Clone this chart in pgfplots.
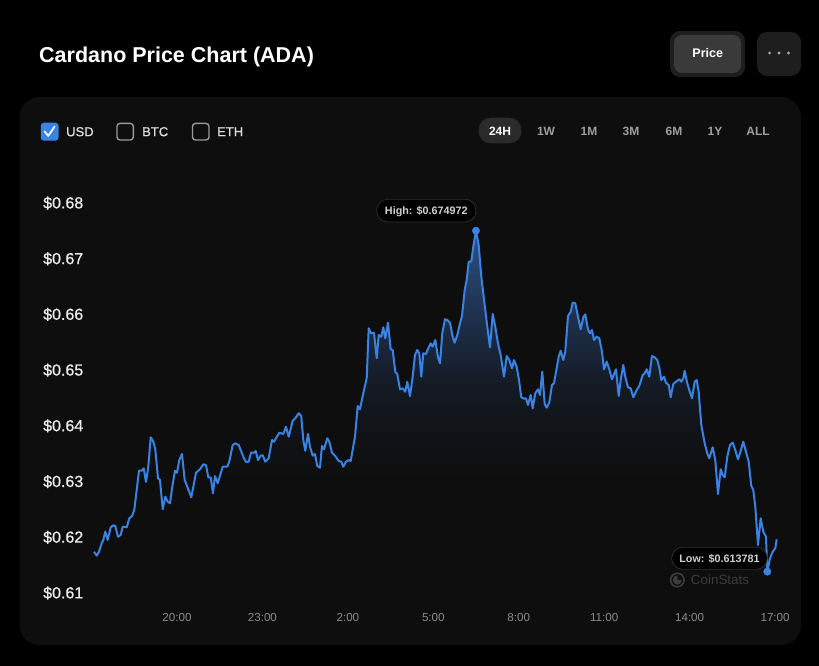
\documentclass[border=0pt]{standalone}
\usepackage{pgfplots}
\pgfplotsset{compat=1.18}
\usepackage{pgfplotstable}
\usepackage{fontspec}
\setmainfont{Liberation Sans}
\newfontfamily\medfont[FakeBold=0.7]{Liberation Sans}

\definecolor{lineblue}{RGB}{58,130,228}
\definecolor{panel}{RGB}{14,14,14}
\definecolor{pill}{RGB}{43,43,43}
\definecolor{btnout}{RGB}{30,30,30}
\definecolor{btnin}{RGB}{58,58,58}
\definecolor{ticktext}{RGB}{140,140,140}
\definecolor{wmark}{RGB}{60,60,60}
\definecolor{fa}{RGB}{17,20,25}
\definecolor{fb}{RGB}{21,28,40}
\definecolor{fc}{RGB}{28,44,69}
\definecolor{fd}{RGB}{40,70,115}
\definecolor{fe}{RGB}{44,78,130}

% stops between 25bp (bottom of path) and 75bp (top of path)
\pgfdeclareverticalshading{areafill}{100bp}{color(0bp)=(panel); color(41bp)=(panel);
  color(49.4bp)=(fa); color(54.9bp)=(fb); color(61.7bp)=(fc); color(71.2bp)=(fd);
  color(75bp)=(fe); color(100bp)=(fe)}

% hours after 17:00 of the day before, price in USD
\pgfplotstableread{
t p
0.086 0.61735
0.180 0.61664
0.261 0.61735
0.356 0.61886
0.412 0.61945
0.482 0.62094
0.567 0.61945
0.672 0.62173
0.763 0.62209
0.834 0.62197
0.928 0.62005
1.023 0.62035
1.093 0.62184
1.234 0.62173
1.325 0.62335
1.420 0.62376
1.501 0.62484
1.585 0.62843
1.666 0.63189
1.760 0.63189
1.831 0.63232
1.912 0.62987
1.992 0.63261
2.077 0.63789
2.168 0.63710
2.238 0.63574
2.333 0.63053
2.403 0.63022
2.498 0.62497
2.589 0.62723
2.673 0.62633
2.754 0.62604
2.835 0.62902
2.930 0.63189
3.000 0.63153
3.081 0.63381
3.176 0.63489
3.270 0.63022
3.362 0.62902
3.502 0.62712
3.597 0.62963
3.667 0.63153
3.808 0.63215
3.923 0.63304
4.018 0.63292
4.099 0.63071
4.183 0.63071
4.264 0.62784
4.334 0.63094
4.429 0.62963
4.605 0.63261
4.766 0.63261
4.836 0.63351
4.956 0.63651
5.047 0.63681
5.166 0.63651
5.328 0.63441
5.423 0.63346
5.518 0.63351
5.598 0.63512
5.704 0.63512
5.763 0.63543
5.844 0.63381
5.939 0.63459
6.009 0.63466
6.100 0.63351
6.220 0.63412
6.336 0.63740
6.406 0.63710
6.592 0.63871
6.732 0.63848
6.827 0.63979
6.922 0.63800
7.062 0.64087
7.154 0.64130
7.273 0.64220
7.364 0.64171
7.435 0.63740
7.505 0.63548
7.600 0.63848
7.670 0.63620
7.765 0.63459
7.845 0.63489
7.926 0.63274
8.021 0.63243
8.091 0.63633
8.162 0.63574
8.277 0.63771
8.348 0.63710
8.442 0.63512
8.558 0.63453
8.678 0.63363
8.769 0.63351
8.839 0.63261
8.934 0.63351
9.029 0.63381
9.099 0.63363
9.250 0.63800
9.345 0.64351
9.425 0.64292
9.541 0.64579
9.661 0.64848
9.731 0.65745
9.812 0.65656
9.917 0.65666
10.012 0.65207
10.082 0.65625
10.173 0.65595
10.244 0.65763
10.314 0.65566
10.409 0.65846
10.503 0.65369
10.574 0.65356
10.665 0.64966
10.735 0.64925
10.830 0.64651
10.925 0.64668
11.016 0.64607
11.086 0.64787
11.181 0.64530
11.276 0.64877
11.357 0.65266
11.437 0.65356
11.508 0.65297
11.578 0.64877
11.648 0.65297
11.743 0.65284
11.824 0.65386
11.908 0.65476
11.978 0.65415
12.070 0.65535
12.164 0.65225
12.235 0.65117
12.315 0.65656
12.410 0.65907
12.491 0.65894
12.586 0.65846
12.680 0.65595
12.751 0.65487
12.842 0.65625
12.937 0.65835
13.007 0.65966
13.102 0.66433
13.172 0.66612
13.242 0.66941
13.333 0.66941
13.404 0.67210
13.498 0.674972
13.593 0.67241
13.685 0.66672
13.804 0.66164
13.895 0.65774
13.990 0.65404
14.085 0.66002
14.176 0.65774
14.271 0.65476
14.366 0.65266
14.482 0.64877
14.576 0.65248
14.668 0.65176
14.763 0.65027
14.833 0.65176
14.928 0.65051
15.008 0.64817
15.089 0.64507
15.184 0.64482
15.254 0.64489
15.324 0.64369
15.419 0.64548
15.489 0.64309
15.581 0.64579
15.675 0.64651
15.746 0.64548
15.826 0.64966
15.911 0.64387
15.981 0.64320
16.072 0.64410
16.167 0.64728
16.237 0.64758
16.332 0.65027
16.402 0.65236
16.473 0.65343
16.564 0.65176
16.634 0.65325
16.729 0.65966
16.824 0.66043
16.894 0.66205
16.985 0.66194
17.080 0.65954
17.175 0.65728
17.266 0.65943
17.336 0.65997
17.431 0.65728
17.501 0.65656
17.571 0.65715
17.642 0.65535
17.736 0.65595
17.828 0.65566
17.923 0.65325
17.993 0.65010
18.088 0.65146
18.179 0.65010
18.274 0.64830
18.414 0.65010
18.509 0.64530
18.579 0.64817
18.671 0.65087
18.741 0.64877
18.836 0.64686
18.930 0.64668
19.022 0.64507
19.141 0.64638
19.232 0.64710
19.352 0.64907
19.422 0.64938
19.492 0.65010
19.583 0.64877
19.678 0.65248
19.773 0.65225
19.864 0.65176
19.934 0.65045
20.005 0.64817
20.100 0.64877
20.170 0.64769
20.265 0.64728
20.335 0.64507
20.426 0.64746
20.521 0.64787
20.637 0.64830
20.707 0.64787
20.777 0.64848
20.826 0.64984
20.918 0.64758
20.988 0.64638
21.083 0.64489
21.178 0.64787
21.248 0.64817
21.318 0.64607
21.410 0.64010
21.529 0.63681
21.620 0.63502
21.690 0.63412
21.810 0.63609
21.901 0.63381
21.996 0.62771
22.091 0.63215
22.161 0.63112
22.231 0.63071
22.322 0.63441
22.417 0.63651
22.512 0.63692
22.603 0.63561
22.698 0.63394
22.768 0.63502
22.884 0.63710
22.979 0.63530
23.074 0.63351
23.165 0.62915
23.235 0.62843
23.306 0.62543
23.400 0.61856
23.495 0.62335
23.586 0.62094
23.681 0.62005
23.727 0.613781
23.822 0.61617
23.917 0.61735
24.008 0.61796
24.057 0.61958
}\price

\begin{document}
\begin{tikzpicture}[x=1pt,y=1pt]
% page and panel (picture units = reference pixels, y from the bottom)
\fill[black] (0,0) rectangle (819,666);
\fill[panel, rounded corners=20pt] (19.5,21) rectangle (801,569);

% header
\node[anchor=base west, inner sep=0, text=white, font=\bfseries\fontsize{21.5}{24}\selectfont] at (39,603) {Cardano Price Chart (ADA)};
\fill[btnout, rounded corners=10pt] (670,589) rectangle (745,635);
\fill[btnin, rounded corners=8pt] (674,593) rectangle (741,631);
\node[anchor=base, inner sep=0, text=white, font=\bfseries\fontsize{12.5}{14}\selectfont] at (707.7,608.2) {Price};
\fill[btnout, rounded corners=10pt] (757,590) rectangle (801,634);
\foreach \dx in {769.6,779,788.4} \fill[gray!70] (\dx,613) circle (1.6);

% currency switches
\fill[lineblue, rounded corners=3pt] (40.8,525.3) rectangle (58.5,543.3);
\draw[white, line width=1.7pt, line cap=round, line join=round] (44.6,534.6) -- (48.2,530) -- (54.6,539.4);
\draw[gray!80, line width=1.4pt, rounded corners=3pt] (117,526) rectangle (133.3,542.6);
\draw[gray!80, line width=1.4pt, rounded corners=3pt] (192.5,526) rectangle (209,542.6);
\begin{scope}[every node/.style={anchor=base west, inner sep=0, text=white!88!black, font=\medfont\fontsize{13}{15}\selectfont}]
\node at (66,529.8) {USD};
\node at (142,529.8) {BTC};
\node at (217,529.8) {ETH};
\end{scope}

% range buttons
\fill[pill, rounded corners=12pt] (478.6,522.7) rectangle (521.4,548.3);
\node[anchor=base, inner sep=0, text=white, font=\bfseries\fontsize{12}{14}\selectfont] at (500,530.7) {24H};
\begin{scope}[every node/.style={anchor=base, inner sep=0, text=white!62!black, font=\bfseries\fontsize{12}{14}\selectfont}]
\node at (546,530.7) {1W};
\node at (589,530.7) {1M};
\node at (631,530.7) {3M};
\node at (674,530.7) {6M};
\node at (715,530.7) {1Y};
\node at (758,530.7) {ALL};
\end{scope}

\begin{axis}[
  at={(91.56pt,66pt)}, anchor=south west,
  scale only axis, width=683.5pt, height=425.15pt,
  xmin=0, xmax=24, ymin=0.608685, ymax=0.685,
  clip=false,
  axis line style={draw=none}, tick style={draw=none}, major tick length=0pt,
  xtick={3,6,9,12,15,18,21,24},
  xticklabels={20:00,23:00,2:00,5:00,8:00,11:00,14:00,17:00},
  ytick={0.61,0.62,0.63,0.64,0.65,0.66,0.67,0.68},
  yticklabels={\$0.61,\$0.62,\$0.63,\$0.64,\$0.65,\$0.66,\$0.67,\$0.68},
  xticklabel style={anchor=base, inner sep=0pt, yshift=-21.85pt, text=ticktext, font=\fontsize{11.6}{13}\selectfont},
  yticklabel style={anchor=base west, inner sep=0pt, xshift=-48.56pt, yshift=-5.7pt, text=white!92!black, font=\medfont\fontsize{16}{18}\selectfont},
]
\addplot[shading=areafill, draw=none, forget plot] table[x=t, y=p] {\price} \closedcycle;
\addplot[lineblue, line width=2pt, line join=round] table[x=t, y=p] {\price};
\addplot[only marks, mark=*, mark size=3.7pt, lineblue, mark options={draw=lineblue, fill=lineblue}] coordinates {(13.498,0.674972) (23.727,0.613781)};
\end{axis}

% watermark
\fill[wmark, even odd rule] (677.3,86) circle (7.6) (677.3,86) circle (5.9);
\fill[wmark] (677.3,86) -- ++(90:4.6) arc (90:360:4.6) -- cycle;
\node[anchor=base, inner sep=0, text=wmark, font=\fontsize{13.4}{15}\selectfont] at (720,81.2) {CoinStats};

% high and low labels
\draw[fill=black, draw=white!18!black, line width=0.8pt, rounded corners=11pt] (376.7,444) rectangle (476,466.7);
\node[anchor=base, inner sep=0, text=white!82!black, font=\bfseries\fontsize{10.8}{12}\selectfont] at (426.3,451.4) {High: \$0.674972};
\draw[fill=black, draw=white!18!black, line width=0.8pt, rounded corners=11pt] (671.7,96.7) rectangle (767.3,118.7);
\node[anchor=base, inner sep=0, text=white!82!black, font=\bfseries\fontsize{10.8}{12}\selectfont] at (719.5,103.9) {Low: \$0.613781};
\end{tikzpicture}
\end{document}
